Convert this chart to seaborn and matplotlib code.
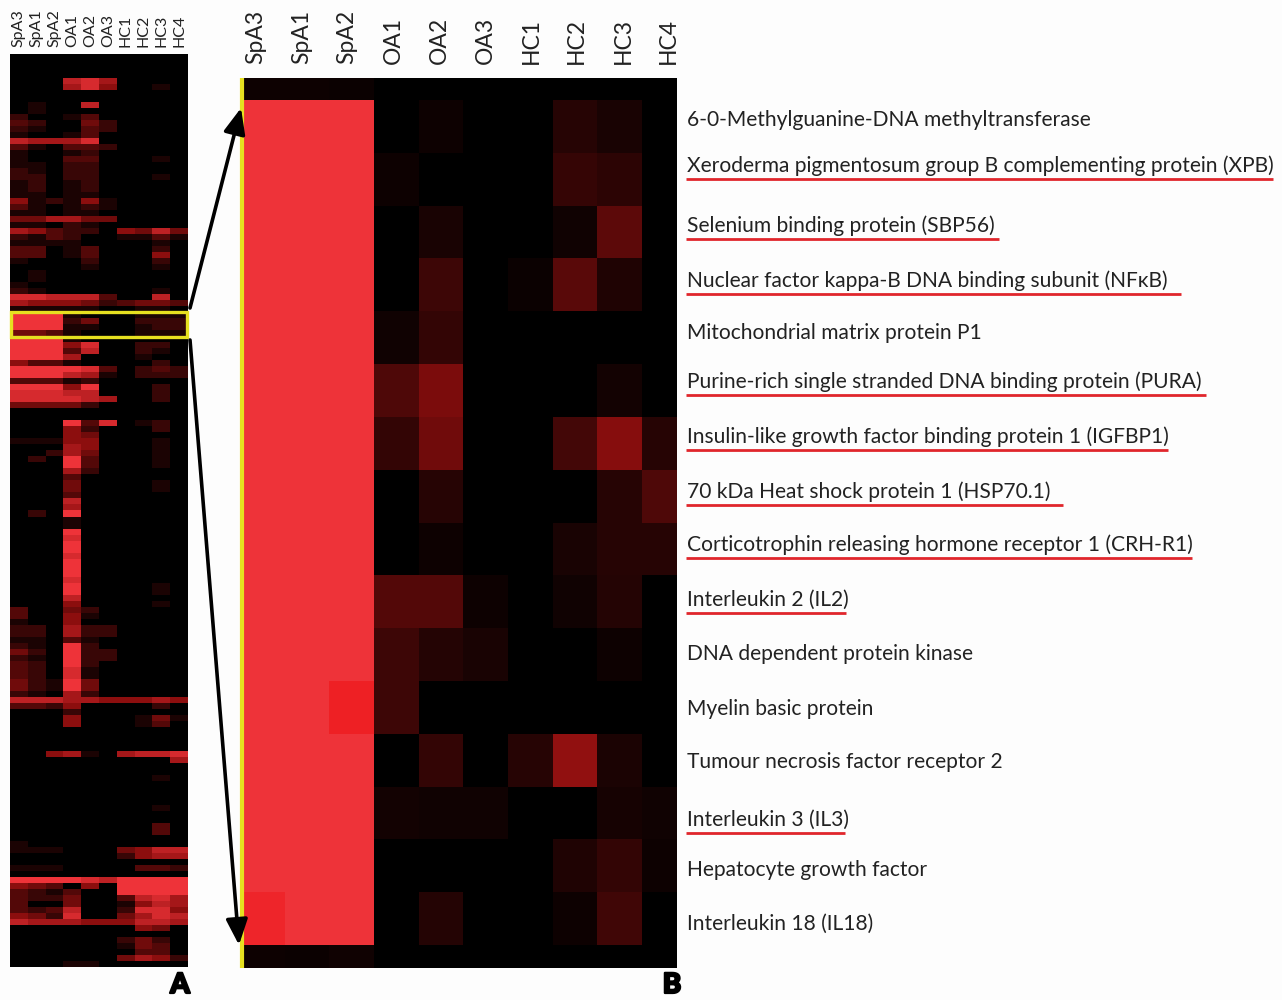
import numpy as np
import matplotlib
matplotlib.use('Agg')
import matplotlib.pyplot as plt
import matplotlib.patheffects as pe
from matplotlib.colors import LinearSegmentedColormap
from matplotlib.patches import Rectangle
import seaborn as sns

samples = ['SpA3', 'SpA1', 'SpA2', 'OA1', 'OA2', 'OA3', 'HC1', 'HC2', 'HC3', 'HC4']

genes = ['6-0-Methylguanine-DNA methyltransferase',
         'Xeroderma pigmentosum group B complementing protein (XPB)',
         'Selenium binding protein (SBP56)',
         'Nuclear factor kappa-B DNA binding subunit (NF\u03baB)',
         'Mitochondrial matrix protein P1',
         'Purine-rich single stranded DNA binding protein (PURA)',
         'Insulin-like growth factor binding protein 1 (IGFBP1)',
         '70 kDa Heat shock protein 1 (HSP70.1)',
         'Corticotrophin releasing hormone receptor 1 (CRH-R1)',
         'Interleukin 2 (IL2)',
         'DNA dependent protein kinase',
         'Myelin basic protein',
         'Tumour necrosis factor receptor 2',
         'Interleukin 3 (IL3)',
         'Hepatocyte growth factor',
         'Interleukin 18 (IL18)']

# panel B, one row per gene
zoom_values = [
    [.90, .90, .90, .00, .05, .00, .00, .14, .09, .00],
    [.90, .90, .90, .05, .00, .00, .00, .19, .16, .00],
    [.90, .90, .90, .00, .09, .00, .00, .06, .33, .00],
    [.90, .90, .90, .00, .22, .00, .04, .32, .11, .00],
    [.90, .90, .90, .06, .18, .00, .00, .00, .00, .00],
    [.90, .90, .90, .28, .44, .00, .00, .00, .07, .00],
    [.90, .90, .90, .18, .40, .00, .00, .24, .48, .14],
    [.90, .90, .90, .00, .14, .00, .00, .00, .14, .28],
    [.90, .90, .90, .00, .05, .00, .00, .09, .14, .14],
    [.90, .90, .90, .30, .30, .05, .00, .06, .13, .00],
    [.90, .90, .90, .22, .13, .09, .00, .00, .05, .00],
    [.90, .90, 1.0, .22, .00, .00, .00, .00, .00, .00],
    [.90, .90, .90, .00, .18, .00, .14, .52, .10, .00],
    [.90, .90, .90, .07, .06, .06, .00, .00, .08, .06],
    [.90, .90, .90, .00, .00, .00, .00, .11, .18, .05],
    [.97, .90, .90, .00, .13, .00, .00, .05, .23, .00],
]
zoom_top = [[.05, .05, .04, 0, 0, 0, 0, 0, 0, 0]]
zoom_bottom = [[.05, .04, .06, 0, 0, 0, 0, 0, 0, 0]]

# panel A, each string is one row, digit = tenths of the colour scale
overview_rows = [
    '0000000000', '0000000000', '0000000000', '0000000000',
    '0007860000', '0006850010', '0000000000', '0000000000',
    '0100700000', '0100000000', '2001300000', '3200420000',
    '2100320000', '1001300000', '7666800000', '3103320000',
    '1001200000', '1003300010', '1102200000', '2102200000',
    '2202200010', '1201200000', '1201200000', '1101100000',
    '5121510000', '3101210000', '1101100000', '4466440000',
    '1102100000', '6532205474', '2132001131', '1111000010',
    '3301300020', '3301300050', '1000200020', '0000100010',
    '0100000000', '0100000000', '1000000000', '2100000010',
    '8877730070', '6555423443', '1111100110', '9991000111',
    '9992400222', '9991100122', '4431000111', '9991000000',
    '9995800220', '9993700210', '9996000100', '5331000020',
    '9999830232', '9997610222', '3331200000', '9995900020',
    '8887700020', '8888760020', '4444200000', '0000000000',
    '0000000000', '0009380120', '0005200020', '0005400000',
    '1115500010', '0006500010', '0026400010', '0209300010',
    '0009300010', '0006200000', '0003000000', '0004000010',
    '0004000010', '0003000000', '0007000000', '0006000000',
    '0209000000', '0001000000', '0001000000', '0009000000',
    '0008000000', '0009000000', '0009000000', '0008000000',
    '0009000000', '0009000000', '0009000000', '0008000000',
    '0009000010', '0009000010', '0007000000', '0005000010',
    '3004200000', '3005100000', '1005000000', '2206220000',
    '2206220000', '1103100000', '2109200000', '4209220000',
    '2109220000', '3209200000', '3208100000', '3208100000',
    '4219400000', '4219400000', '2106200000', '7776655565',
    '3325000020', '0002000000', '0005000141', '0005000130',
    '0000000000', '0000000000', '0000000000', '0000000000',
    '0056106778', '0000000006', '0000000000', '0000000000',
    '0000000010', '0000000000', '0000000000', '0000000000',
    '0000000000', '0000000010', '0000000000', '0000000000',
    '0000000030', '0000000030', '0000000000', '1000000000',
    '1110004577', '0000002566', '0000000000', '1110000332',
    '0000000000', '9999879999', '5430509999', '3213009999',
    '3224003786', '3004001576', '3237002885', '5428004687',
    '7666555776', '0000000540', '0000000000', '0000002420',
    '0000001430', '0000000330', '0000004652', '0001100000',
]

label_y = [120, 166, 226, 281, 333, 382, 437, 492, 545, 600, 654, 709, 762, 820, 870, 924]
underline_end = [None, 1273, 999, 1181, None, 1206, 1168, 1063, 1192, 846, None, None, None, 845, None, None]
zoom_label_x = [256, 302, 347, 393, 439, 485, 531, 576, 623, 668]

W, H = 1282, 1000
sns.set_theme(style='white')
plt.rcParams['font.family'] = ['Lato', 'DejaVu Sans']

redmap = LinearSegmentedColormap.from_list(
    'redmap', [(0, '#000000'), (.5, '#8c0e0e'), (.9, '#ee3339'), (1, '#ee2024')])


def px_axes(left, top, right, bottom):
    return fig.add_axes([left / W, 1 - bottom / H, (right - left) / W, (bottom - top) / H])


fig = plt.figure(figsize=(W / 100, H / 100), dpi=100, facecolor='#fdfdfd')

# panel A
overview = np.array([[int(c) / 10 for c in row] for row in overview_rows])
ax_a = px_axes(10, 54, 188, 967)
sns.heatmap(overview, ax=ax_a, cmap=redmap, vmin=0, vmax=1, cbar=False,
            xticklabels=samples, yticklabels=False)
ax_a.xaxis.tick_top()
ax_a.tick_params(axis='x', length=0, pad=5, labelsize=11.5, labelrotation=90, labelcolor='#222222')
ax_a.patch.set_facecolor('black')

# panel B: thin strip, gene rows, thin strip
col_scale = 9.78
ax_top = px_axes(240, 78, 677, 100)
ax_mid = px_axes(240, 100, 677, 945)
ax_bot = px_axes(240, 945, 677, 968)
for ax, vals in [(ax_top, zoom_top), (ax_mid, zoom_values), (ax_bot, zoom_bottom)]:
    sns.heatmap(np.array(vals), ax=ax, cmap=redmap, vmin=0, vmax=1, cbar=False,
                xticklabels=False, yticklabels=False)
    ax.set_xlim(0, col_scale)

# annotation layer in pixel coordinates
over = fig.add_axes([0, 0, 1, 1], zorder=5)
over.set_xlim(0, W)
over.set_ylim(H, 0)
over.axis('off')

over.add_patch(Rectangle((11, 312), 176, 25, fill=False, ec='#e6e020', lw=2.4))
over.plot([242, 242], [78, 968], color='#e6e020', lw=3, solid_capstyle='butt')

over.annotate('', xy=(241, 108), xytext=(190, 308),
              arrowprops=dict(arrowstyle='-|>,head_length=1.3,head_width=0.55', color='black', lw=2.6,
                              shrinkA=0, shrinkB=0))
over.annotate('', xy=(239, 945), xytext=(190, 340),
              arrowprops=dict(arrowstyle='-|>,head_length=1.3,head_width=0.55', color='black', lw=2.6,
                              shrinkA=0, shrinkB=0))

for name, x in zip(samples, zoom_label_x):
    over.text(x, 64, name, rotation=90, ha='center', va='bottom', fontsize=16.5, color='#222222')

for gene, y, end in zip(genes, label_y, underline_end):
    over.text(687, y, gene, ha='left', va='center', fontsize=15.1, color='#222222')
    if end is not None:
        over.plot([686, end], [y + 13, y + 13], color='#e0262c', lw=2, solid_capstyle='butt')

for letter, x in [('A', 180), ('B', 672)]:
    over.text(x, 985, letter, ha='center', va='center', fontsize=20, fontweight='black', color='black',
              path_effects=[pe.withStroke(linewidth=1.6, foreground='black')])

fig.savefig('out.png', dpi=100, facecolor=fig.get_facecolor())
